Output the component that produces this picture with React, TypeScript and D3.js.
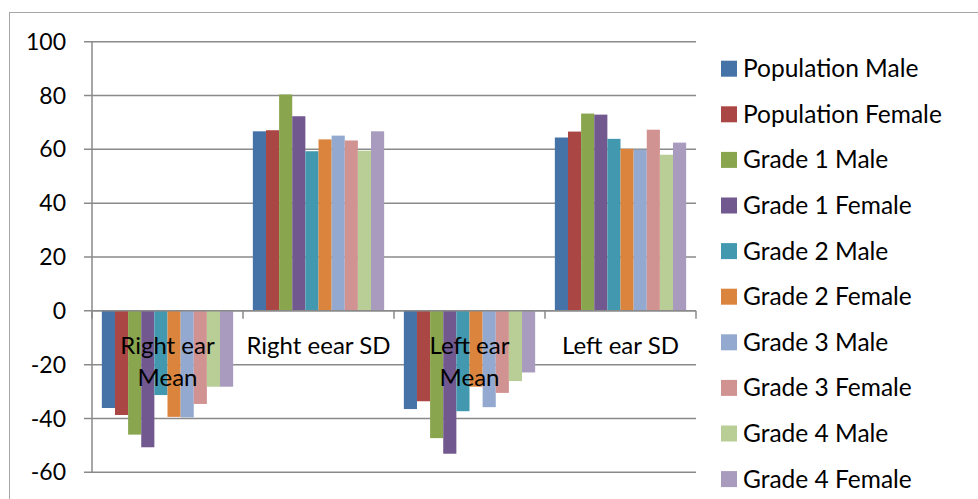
import React from "react";
import * as d3 from "d3";

// Categories along the x axis (label lines)
const categories: string[][] = [
  ["Right ear", "Mean"],
  ["Right eear SD"],
  ["Left ear", "Mean"],
  ["Left ear SD"],
];

const seriesNames = [
  "Population Male",
  "Population Female",
  "Grade 1 Male",
  "Grade 1 Female",
  "Grade 2 Male",
  "Grade 2 Female",
  "Grade 3 Male",
  "Grade 3 Female",
  "Grade 4 Male",
  "Grade 4 Female",
];

const seriesColors = [
  "#4572A7",
  "#AA4643",
  "#89A54E",
  "#71588F",
  "#4198AF",
  "#DB843D",
  "#93A9CF",
  "#D19392",
  "#B9CD96",
  "#A99BBD",
];

// Values per series, in category order
const populationMale = [-36.1, 66.7, -36.5, 64.4];
const populationFemale = [-38.7, 67.1, -33.6, 66.6];
const grade1Male = [-46.0, 80.4, -47.3, 73.3];
const grade1Female = [-50.7, 72.3, -53.1, 72.9];
const grade2Male = [-31.3, 59.3, -37.3, 63.9];
const grade2Female = [-39.4, 63.7, -28.2, 60.2];
const grade3Male = [-39.6, 65.1, -35.8, 59.9];
const grade3Female = [-34.6, 63.3, -30.5, 67.3];
const grade4Male = [-28.2, 59.5, -26.1, 58.0];
const grade4Female = [-28.2, 66.7, -22.9, 62.5];

const seriesValues = [
  populationMale,
  populationFemale,
  grade1Male,
  grade1Female,
  grade2Male,
  grade2Female,
  grade3Male,
  grade3Female,
  grade4Male,
  grade4Female,
];

const yTicks = [100, 80, 60, 40, 20, 0, -20, -40, -60];

const W = 978;
const H = 499;
const plot = { left: 92, right: 696, top: 41.7, bottom: 472.3 };
const FONT = "Lato, 'Open Sans', sans-serif";
const GRID = "#8a8a8a";

export default function App() {
  const y = d3.scaleLinear().domain([-60, 100]).range([plot.bottom, plot.top]);
  const x = d3
    .scaleBand<number>()
    .domain(d3.range(categories.length))
    .range([plot.left, plot.right]);
  const catW = x.bandwidth();
  // 10 bars plus a 150% gap per cluster
  const barW = catW / (seriesNames.length + 1.5);
  const inner = d3
    .scaleBand<number>()
    .domain(d3.range(seriesNames.length))
    .range([barW * 0.75, barW * 0.75 + barW * seriesNames.length]);

  const y0 = y(0);

  return (
    <svg
      width={W}
      height={H}
      style={{ position: "fixed", left: 0, top: 0, background: "#fff" }}
      fontFamily={FONT}
    >
      <rect x={0} y={0} width={W} height={H} fill="#fff" />
      <rect
        x={9.5}
        y={12.5}
        width={W + 20}
        height={H + 20}
        fill="none"
        stroke="#a6a6a6"
        strokeWidth={1}
      />

      {/* gridlines */}
      {yTicks.map((t) => (
        <line
          key={`g${t}`}
          x1={plot.left - 8}
          x2={plot.right}
          y1={y(t)}
          y2={y(t)}
          stroke={GRID}
          strokeWidth={1.5}
        />
      ))}

      {/* bars */}
      {seriesValues.map((vals, s) =>
        vals.map((v, c) => {
          const x0 = (x(c) as number) + (inner(s) as number);
          const top = Math.min(y(v), y0);
          const h = Math.abs(y(v) - y0);
          return (
            <rect
              key={`b${s}-${c}`}
              x={x0}
              y={top}
              width={inner.bandwidth()}
              height={h}
              fill={seriesColors[s]}
            />
          );
        })
      )}

      {/* y axis */}
      <line
        x1={plot.left}
        x2={plot.left}
        y1={plot.top}
        y2={plot.bottom}
        stroke={GRID}
        strokeWidth={1.5}
      />
      {yTicks.map((t) => (
        <text
          key={`t${t}`}
          x={66}
          y={y(t)}
          dy="0.35em"
          textAnchor="end"
          fontSize={23}
          fill="#000"
        >
          {t}
        </text>
      ))}

      {/* category axis at zero */}
      <line
        x1={plot.left}
        x2={plot.right}
        y1={y0}
        y2={y0}
        stroke={GRID}
        strokeWidth={1.5}
      />
      {d3.range(categories.length + 1).map((i) => {
        const xx = plot.left + i * catW;
        return (
          <line
            key={`ct${i}`}
            x1={xx}
            x2={xx}
            y1={y0}
            y2={y0 + 8}
            stroke={GRID}
            strokeWidth={1.5}
          />
        );
      })}
      {categories.map((lines, c) => {
        const cx = (x(c) as number) + catW / 2;
        return (
          <text
            key={`cl${c}`}
            x={cx}
            y={354}
            textAnchor="middle"
            fontSize={24}
            fill="#000"
          >
            {lines.map((ln, i) => (
              <tspan key={i} x={cx} dy={i === 0 ? 0 : 32}>
                {ln}
              </tspan>
            ))}
          </text>
        );
      })}

      {/* legend */}
      {seriesNames.map((name, i) => {
        const cy = 68.7 + i * 45.6;
        return (
          <g key={`l${i}`}>
            <rect x={721} y={cy - 8} width={16} height={16} fill={seriesColors[i]} />
            <text x={743} y={cy} dy="0.35em" fontSize={24.5} fill="#000">
              {name}
            </text>
          </g>
        );
      })}
    </svg>
  );
}
